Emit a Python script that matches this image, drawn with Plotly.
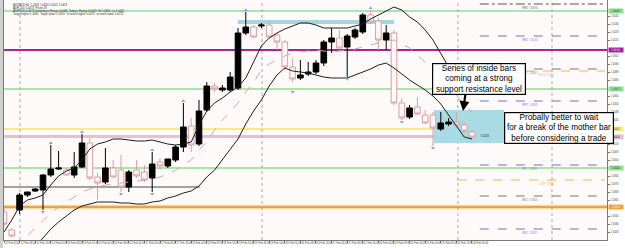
import plotly.graph_objects as go

# ---------------- data ----------------
candle_index = list(range(61))
open_price = [1.0348, 1.0330, 1.0350, 1.0365, 1.0369, 1.0370, 1.0385, 1.0391, 1.0390, 1.0385,
              1.0393, 1.0417, 1.0383, 1.0378, 1.0392, 1.0390, 1.0373, 1.0390, 1.0388, 1.0382,
              1.0398, 1.0394, 1.0400, 1.0413, 1.0434, 1.0416, 1.0450, 1.0474, 1.0470, 1.0470,
              1.0472, 1.0527, 1.0533, 1.0534, 1.0535, 1.0525, 1.0518, 1.0493, 1.0482, 1.0486,
              1.0488, 1.0497, 1.0518, 1.0522, 1.0513, 1.0523, 1.0528, 1.0545, 1.0539, 1.0520,
              1.0527, 1.0457, 1.0443, 1.0453, 1.0445, 1.0445, 1.0431, 1.0436, 1.0438, 1.0435,
              1.0428]
high_price = [1.0352, 1.0332, 1.0367, 1.0368, 1.0372, 1.0386, 1.0415, 1.0409, 1.0392, 1.0408,
              1.0426, 1.0422, 1.0387, 1.0412, 1.0400, 1.0405, 1.0390, 1.0400, 1.0395, 1.0408,
              1.0402, 1.0400, 1.0415, 1.0457, 1.0442, 1.0460, 1.0478, 1.0477, 1.0475, 1.0488,
              1.0532, 1.0548, 1.0535, 1.0537, 1.0538, 1.0527, 1.0520, 1.0502, 1.0500, 1.0498,
              1.0500, 1.0520, 1.0532, 1.0530, 1.0526, 1.0532, 1.0547, 1.0550, 1.0542, 1.0535,
              1.0530, 1.0462, 1.0455, 1.0463, 1.0450, 1.0448, 1.0448, 1.0442, 1.0448, 1.0438,
              1.0430]
low_price = [1.0334, 1.0322, 1.0346, 1.0363, 1.0368, 1.0350, 1.0383, 1.0390, 1.0384, 1.0382,
             1.0392, 1.0380, 1.0360, 1.0376, 1.0382, 1.0368, 1.0368, 1.0382, 1.0378, 1.0368,
             1.0390, 1.0392, 1.0398, 1.0408, 1.0408, 1.0414, 1.0448, 1.0468, 1.0468, 1.0468,
             1.0470, 1.0525, 1.0522, 1.0532, 1.0522, 1.0510, 1.0490, 1.0478, 1.0480, 1.0484,
             1.0486, 1.0494, 1.0507, 1.0510, 1.0483, 1.0521, 1.0526, 1.0536, 1.0510, 1.0510,
             1.0455, 1.0440, 1.0441, 1.0445, 1.0436, 1.0414, 1.0429, 1.0434, 1.0433, 1.0427,
             1.0422]
close_price = [1.0336, 1.0324, 1.0365, 1.0368, 1.0371, 1.0385, 1.0391, 1.0392, 1.0385, 1.0393,
               1.0417, 1.0382, 1.0377, 1.0392, 1.0383, 1.0373, 1.0388, 1.0384, 1.0380, 1.0396,
               1.0394, 1.0401, 1.0413, 1.0433, 1.0415, 1.0449, 1.0474, 1.0471, 1.0472, 1.0483,
               1.0527, 1.0533, 1.0523, 1.0535, 1.0523, 1.0518, 1.0493, 1.0481, 1.0485, 1.0488,
               1.0497, 1.0518, 1.0522, 1.0512, 1.0524, 1.0530, 1.0545, 1.0538, 1.0520, 1.0527,
               1.0457, 1.0442, 1.0452, 1.0446, 1.0437, 1.0432, 1.0437, 1.0438, 1.0435, 1.0429,
               1.0423]

band_upper = [1.0328, 1.0340, 1.0354, 1.0360, 1.0362, 1.0365, 1.0375, 1.0384, 1.0389, 1.0392,
              1.0400, 1.0411, 1.0416, 1.0418, 1.0421, 1.0421, 1.0420, 1.0419, 1.0419, 1.0420,
              1.0418, 1.0416, 1.0415, 1.0416, 1.0418, 1.0435, 1.0449, 1.0457, 1.0462, 1.0468,
              1.0473, 1.0482, 1.0498, 1.0514, 1.0522, 1.0527, 1.0531, 1.0534, 1.0537, 1.0537,
              1.0535, 1.0532, 1.0532, 1.0532, 1.0532, 1.0534, 1.0536, 1.0541, 1.0545, 1.0549,
              1.0553, 1.0550, 1.0543, 1.0538, 1.0530, 1.0520, 1.0506, 1.0493, 1.0482, 1.0475,
              1.0468]
band_lower = [1.0285, 1.0295, 1.0302, 1.0308, 1.0314, 1.0322, 1.0331, 1.0338, 1.0344, 1.0350,
              1.0354, 1.0356, 1.0358, 1.0358, 1.0358, 1.0357, 1.0357, 1.0356, 1.0356, 1.0358,
              1.0359, 1.0362, 1.0364, 1.0367, 1.0369, 1.0374, 1.0383, 1.0390, 1.0400, 1.0410,
              1.0421, 1.0436, 1.0449, 1.0460, 1.0474, 1.0485, 1.0492, 1.0489, 1.0488, 1.0487,
              1.0485, 1.0483, 1.0482, 1.0482, 1.0482, 1.0485, 1.0488, 1.0491, 1.0495, 1.0497,
              1.0492, 1.0486, 1.0480, 1.0475, 1.0470, 1.0464, 1.0456, 1.0445, 1.0434, 1.0423,
              1.0421]
band_middle = [1.0298, 1.0307, 1.0315, 1.0324, 1.0332, 1.0340, 1.0347, 1.0353, 1.0358, 1.0363,
               1.0368, 1.0371, 1.0373, 1.0375, 1.0376, 1.0377, 1.0378, 1.0379, 1.0380, 1.0381,
               1.0383, 1.0386, 1.0390, 1.0395, 1.0400, 1.0410, 1.0418, 1.0430, 1.0440, 1.0448,
               1.0457, 1.0468, 1.0478, 1.0490, 1.0496, 1.0500, 1.0504, 1.0507, 1.0508, 1.0509,
               1.0510, 1.0509, 1.0508, 1.0509, 1.0510, 1.0511, 1.0513, 1.0515, 1.0517, 1.0519,
               1.0520, 1.0516, 1.0512, 1.0505, 1.0498, 1.0490, 1.0483, 1.0475, 1.0465, 1.0455,
               1.0448]

fractal_up_index = [6, 10, 19, 23, 31, 47]
fractal_up_price = [1.0417, 1.0428, 1.0410, 1.0459, 1.0550, 1.0552]
fractal_down_index = [5, 12, 15, 19, 37, 44, 51, 55]
fractal_down_price = [1.0348, 1.0358, 1.0366, 1.0366, 1.0468, 1.0481, 1.0438, 1.0412]

x_tick_index = list(range(0, 61, 2))
x_tick_labels = ["12 Feb 2014", "12 Feb 08:00", "12 Feb 16:00", "13 Feb 00:00", "13 Feb 08:00",
                 "13 Feb 16:00", "14 Feb 00:00", "14 Feb 08:00", "14 Feb 16:00", "17 Feb 00:00",
                 "17 Feb 08:00", "17 Feb 16:00", "18 Feb 00:00", "18 Feb 08:00", "18 Feb 16:00",
                 "19 Feb 00:00", "19 Feb 08:00", "19 Feb 16:00", "20 Feb 00:00", "20 Feb 08:00",
                 "20 Feb 16:00", "21 Feb 00:00", "21 Feb 08:00", "21 Feb 16:00", "24 Feb 00:00",
                 "24 Feb 08:00", "24 Feb 16:00", "25 Feb 00:00", "25 Feb 08:00", "25 Feb 16:00",
                 "26 Feb 00:00"]
# axis labels hidden under the coloured price tags are left out
y_tick_labels = ["1.0328", "1.0336", "1.0344", "1.0360", "1.0368", "1.0376", "1.0384",
                 "1.0400", "1.0408", "1.0416", "1.0440", "1.0448",
                 "1.0456", "1.0464", "1.0480", "1.0488", "1.0496", "1.0504",
                 "1.0520", "1.0528", "1.0536", "1.0544"]

level_prices = [1.0549, 1.0510, 1.0471, 1.0431, 1.04235, 1.0392, 1.0353]
partial_level_price = 1.0373
partial_level_end = 25.1

pivot_prices = [1.0556, 1.0524, 1.0491, 1.0489, 1.0459, 1.0428, 1.0395, 1.0380, 1.0364, 1.0331]
pivot_labels = ["WR3 1.0556", "WR2 1.0524", "WR1 1.0491", "HIGH 1.0489", "WPP 1.0459", "1.0428",
                "WS1 1.0395", "LOW 1.0380", "WS2 1.0364", "WS3 1.0331"]
pivot_start = [61.0, 61.0, 61.0, 66.8, 61.0, 60.4, 61.0, 58.1, 61.0, 61.0]

separator_index = [2.05, 33.08, 58.2, 70.26]
top_zone = (30.0, 50.0, 1.0536, 1.0540)
inside_zone = (55.1, 64.1, 1.0417, 1.0450)

header_lines = ["AUDNZD,H4  1.0428 1.0430 1.0422 1.0423",
                "ADR (20) 1.0473  Pivots W",
                "ADR (20) 0.0073 Yesterday's Range 0.0066  Today's Range 0.0029  Hi 1.0456  Lo 1.0422",
                "Target higher 1.0495  Target lower 1.0350  To reach higher 0.0072  to reach lower 0.0073"]

note_1 = "Series of inside bars<br>coming at a strong<br>support resistance level"
note_2 = "Probally better to wait<br>for a break of the mother bar<br>before considering a trade"

# ---------------- styles ----------------
level_colors = ['#8fde8f', '#a5239f', '#8fde8f', '#f3ed8a', '#e5c3c5', '#8fde8f', '#e9a33f']
level_widths = [1.5, 2.2, 1.5, 2.2, 3.0, 1.5, 2.2]
pivot_colors = ['#555555', '#7070cc', '#777777', '#f0b45a', '#7070cc', '#999999',
                '#7070cc', '#f0b45a', '#777777', '#7070cc']
pivot_dash = ['dashdot', 'dash', 'dash', 'dash', 'dash', 'dash', 'dash', 'dash', 'dash', 'dash']
tiny = dict(family="Liberation Sans, Arial", size=2.8, color="#333333")

fig = go.Figure()

shapes = []
for p, c, w in zip(level_prices, level_colors, level_widths):
    if c == '#e9a33f':
        shapes.append(dict(type='line', xref='paper', x0=0, x1=1, yref='y', y0=p, y1=p,
                           line=dict(color='#f7d9a6', width=4.5), layer='below'))
    shapes.append(dict(type='line', xref='paper', x0=0, x1=1, yref='y', y0=p, y1=p,
                       line=dict(color=c, width=w), layer='below'))
shapes.append(dict(type='line', xref='x', x0=0, x1=partial_level_end, yref='y',
                   y0=partial_level_price, y1=partial_level_price,
                   line=dict(color='#4a4a4a', width=1), layer='below'))
for p, c, d, s in zip(pivot_prices, pivot_colors, pivot_dash, pivot_start):
    shapes.append(dict(type='line', xref='x', x0=s, x1=77.05, yref='y', y0=p, y1=p,
                       line=dict(color=c, width=1, dash=d), layer='below'))
for s in separator_index:
    shapes.append(dict(type='line', xref='x', x0=s, x1=s, yref='paper', y0=0, y1=1,
                       line=dict(color='#a8a8a8', width=1, dash='dot'), layer='below'))
shapes.append(dict(type='rect', xref='x', yref='y', x0=top_zone[0], x1=top_zone[1],
                   y0=top_zone[2], y1=top_zone[3], fillcolor='#a3d7e0',
                   line=dict(width=0), layer='below'))
shapes.append(dict(type='rect', xref='x', yref='y', x0=inside_zone[0], x1=inside_zone[1],
                   y0=inside_zone[2], y1=inside_zone[3], fillcolor='#a8dbe3',
                   line=dict(width=0), layer='below'))
shapes.append(dict(type='rect', xref='paper', yref='paper', x0=-0.0067, x1=-0.0017, y0=-0.04, y1=1,
                   fillcolor='#cfcfcf', line=dict(width=0)))

fig.add_trace(go.Scatter(x=candle_index, y=band_middle, mode='lines',
                         line=dict(color='#dba3ad', width=1, dash='dash'), hoverinfo='skip'))
fig.add_trace(go.Scatter(x=candle_index, y=band_upper, mode='lines',
                         line=dict(color='#1e1e1e', width=1), hoverinfo='skip'))
fig.add_trace(go.Scatter(x=candle_index, y=band_lower, mode='lines',
                         line=dict(color='#1e1e1e', width=1), hoverinfo='skip'))

fig.add_trace(go.Candlestick(
    x=candle_index, open=open_price, high=high_price, low=low_price, close=close_price,
    increasing=dict(line=dict(color='#000000', width=1), fillcolor='#000000'),
    decreasing=dict(line=dict(color='#d79fa5', width=1), fillcolor='#fff8f8'),
    whiskerwidth=0, hoverinfo='skip'))

fig.add_trace(go.Scatter(x=fractal_up_index, y=fractal_up_price, mode='markers',
                         marker=dict(symbol='triangle-up', size=3.5, color='#7fa6cf'),
                         hoverinfo='skip'))
fig.add_trace(go.Scatter(x=fractal_down_index, y=fractal_down_price, mode='markers',
                         marker=dict(symbol='triangle-down', size=3.5, color='#7fa6cf'),
                         hoverinfo='skip'))

annotations = []
for k, line in enumerate(header_lines):
    annotations.append(dict(xref='paper', yref='paper', x=0.012, y=1 - (1.0 + 3.0 * k) / 240,
                            xanchor='left', yanchor='top', text=line, showarrow=False,
                            font=tiny))
for p, c, lab, s in zip(pivot_prices, pivot_colors, pivot_labels, pivot_start):
    if lab == "1.0428":
        annotations.append(dict(x=60.8, y=p, xref='x', yref='y', text=lab, showarrow=False,
                                xanchor='left', yanchor='top', font=dict(size=2.8, color='#222')))
        continue
    xpos = 69.6 if c == '#f0b45a' else 67.4
    annotations.append(dict(x=xpos, y=p, xref='x', yref='y', text=lab, showarrow=False,
                            xanchor='center', yanchor='top', font=dict(size=2.8, color=c)))
for p, c in zip(level_prices, level_colors):
    annotations.append(dict(xref='paper', x=1.002, y=p, yref='y', xanchor='left',
                            text=f"{p:.4f}", showarrow=False, bgcolor=c, borderpad=0.4,
                            width=13, height=3.5,
                            font=dict(size=2.6, color='#ffffff' if c in ('#a5239f', '#e9a33f') else '#222')))
annotations.append(dict(x=58.85, y=1.0449, xref='x', yref='y', ax=59.2, ay=1.0468,
                        axref='x', ayref='y', text='', showarrow=True, arrowhead=2,
                        arrowsize=0.9, arrowwidth=2.2, arrowcolor='#000000'))
box_font = dict(family="Liberation Sans, Arial", size=8.2, color="#000000")
annotations.append(dict(xref='paper', yref='paper', x=(432 - 4) / 603, y=1 - 63 / 240,
                        xanchor='left', yanchor='top', text=note_1, showarrow=False,
                        bgcolor='#ffffff', bordercolor='#000000', borderwidth=1.2, borderpad=0,
                        width=91.6, height=29.6, font=box_font, align='center'))
annotations.append(dict(xref='paper', yref='paper', x=(504 - 4) / 603, y=1 - 112 / 240,
                        xanchor='left', yanchor='top', text=note_2, showarrow=False,
                        bgcolor='#ffffff', bordercolor='#000000', borderwidth=1.2, borderpad=0,
                        width=107.6, height=29.6, font=box_font, align='center'))

fig.update_layout(
    width=625, height=248,
    margin=dict(l=4, r=18, t=0, b=8, pad=0),
    paper_bgcolor='#ffffff', plot_bgcolor='#fffafa',
    showlegend=False, boxgap=0.1, boxgroupgap=0.2,
    shapes=shapes, annotations=annotations,
    xaxis=dict(range=[0, 77.31], tickvals=x_tick_index, ticktext=x_tick_labels,
               tickfont=dict(family="Liberation Sans, Arial", size=2.6, color='#444'),
               ticks='outside', ticklen=2, tickcolor='#777', tickangle=0,
               ticklabelposition='outside right',
               showgrid=False, zeroline=False, showline=True, linecolor='#7a7a7a',
               linewidth=1, mirror=True, rangeslider=dict(visible=False)),
    yaxis=dict(side='right', range=[1.0320, 1.0560],
               tickvals=[float(v) for v in y_tick_labels], ticktext=y_tick_labels,
               tickfont=dict(family="Liberation Sans, Arial", size=2.6, color='#444'),
               ticks='outside', ticklen=2, tickcolor='#777',
               showgrid=False, zeroline=False, showline=True, linecolor='#7a7a7a',
               linewidth=1, mirror=True),
)

fig.write_html("out.html")
